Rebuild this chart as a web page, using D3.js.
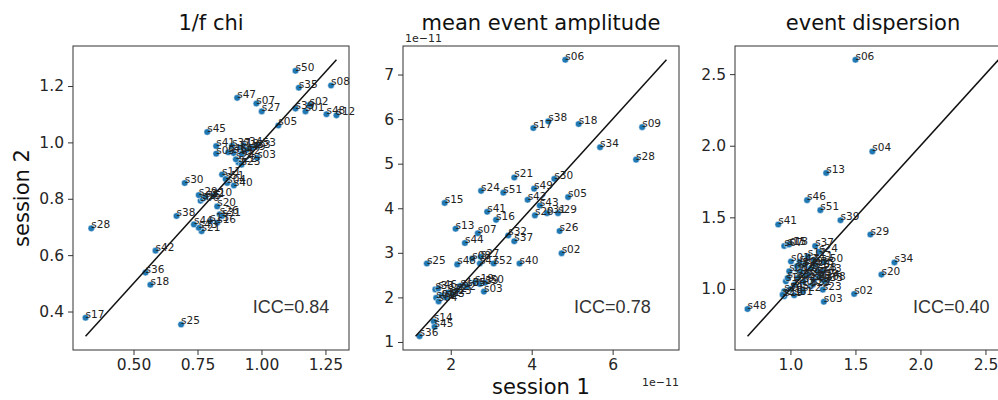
<!DOCTYPE html>
<html>
<head>
<meta charset="utf-8">
<script src="https://cdn.jsdelivr.net/npm/d3@7"></script>
<style>
  body { margin: 0; background: #fff; }
  text { font-family: "DejaVu Sans", sans-serif; }
</style>
</head>
<body>
<div id="chart"></div>
<script>
// subject ids, same order in every array below
const subjects = ["s01","s02","s03","s04","s05","s06","s07","s08","s09","s10",
  "s11","s12","s13","s14","s15","s16","s17","s18","s19","s20",
  "s21","s22","s23","s24","s25","s26","s27","s28","s29","s30",
  "s31","s32","s33","s34","s35","s36","s37","s38","s39","s40",
  "s41","s42","s43","s44","s45","s46","s47","s48","s49","s50",
  "s51","s52","s53"];

// 1/f chi
const chiS1 = [1.172,1.188,0.983,0.866,1.066,0.762,0.980,1.272,0.823,0.812,
  0.846,1.293,0.800,0.891,0.770,0.827,0.3125,0.566,0.917,0.827,
  0.766,0.910,0.922,0.900,0.686,0.837,1.001,0.335,0.755,0.700,
  0.846,0.781,0.962,0.930,1.146,0.547,0.885,0.668,1.133,0.892,
  0.823,0.586,0.755,0.736,0.788,0.870,0.905,1.254,0.943,1.133,
  0.860,0.923,0.983];
const chiS2 = [1.110,1.133,0.945,0.856,1.060,0.793,1.138,1.202,0.960,0.811,
  0.886,1.096,0.720,0.962,0.800,0.715,0.378,0.495,0.982,0.773,
  0.685,0.929,0.921,0.940,0.354,0.745,1.110,0.695,0.813,0.856,
  0.739,0.806,0.980,0.990,1.194,0.538,0.988,0.739,1.120,0.847,
  0.987,0.616,0.697,0.709,1.037,0.965,1.158,1.100,0.974,1.254,
  0.870,0.960,0.988];

// mean event amplitude (x 1e-11)
const ampS1 = [1.64,4.74,2.82,1.70,4.90,4.83,2.67,2.53,6.73,2.24,
  1.78,1.94,2.12,1.58,1.85,3.12,4.04,5.16,2.60,4.08,
  3.57,2.16,2.05,2.75,1.41,4.69,2.74,6.58,4.65,4.56,
  4.38,3.42,1.62,5.69,2.40,1.23,3.57,4.41,2.72,3.70,
  2.90,3.90,4.20,2.35,1.60,1.69,2.72,2.16,4.06,2.85,
  3.30,3.06,1.88];
const ampS2 = [1.99,2.99,2.13,1.91,4.25,7.33,3.44,2.87,5.82,2.26,
  2.04,2.11,3.54,1.46,4.12,3.74,5.80,5.89,2.34,3.84,
  4.69,2.16,2.08,4.39,2.76,3.49,2.91,5.09,3.89,4.66,
  3.89,3.39,2.18,5.37,2.25,1.13,3.26,5.95,2.30,2.76,
  3.92,4.19,4.06,3.22,1.34,2.20,2.76,2.74,4.44,2.33,
  4.35,2.76,2.00];

// event dispersion
const dispS1 = [1.004,1.49,1.257,1.63,0.991,1.50,0.952,1.28,1.107,0.952,
  1.184,1.133,1.275,1.236,0.978,0.965,1.056,0.99,0.952,1.70,
  0.94,1.094,1.249,1.22,1.158,1.158,1.081,1.21,1.615,0.978,
  1.029,1.172,1.261,1.80,1.056,1.12,1.19,1.19,1.385,1.03,
  0.906,1.07,1.25,1.10,1.00,1.128,1.14,0.67,1.22,1.26,
  1.23,1.05,1.18];
const dispS2 = [1.192,0.965,0.91,1.96,1.123,2.60,1.30,1.06,1.169,0.984,
  1.203,1.227,1.81,1.076,1.31,1.053,1.134,1.31,0.949,1.10,
  0.96,0.984,0.995,1.26,1.019,1.146,1.123,1.123,1.38,1.076,
  0.956,1.030,1.053,1.185,1.076,1.09,1.30,1.17,1.48,1.03,
  1.45,1.19,1.12,1.05,1.00,1.62,1.10,0.86,1.08,1.19,
  1.55,1.16,1.06];

const titles = ["1/f chi", "mean event amplitude", "event dispersion"];
const iccValues = [0.84, 0.78, 0.40];
const xTickValues = [[0.5, 0.75, 1.0, 1.25], [2, 4, 6], [1.0, 1.5, 2.0, 2.5]];
const yTickValues = [[0.4, 0.6, 0.8, 1.0, 1.2], [1, 2, 3, 4, 5, 6, 7], [1.0, 1.5, 2.0, 2.5]];

const panels = [
  { s1: chiS1,  s2: chiS2,  xFmt: d3.format(".2f"), yFmt: d3.format(".1f"), left: 73,  iccX: 0.651, sci: false },
  { s1: ampS1,  s2: ampS2,  xFmt: d3.format("d"),   yFmt: d3.format("d"),   left: 403, iccX: 0.62,  sci: true },
  { s1: dispS1, s2: dispS2, xFmt: d3.format(".1f"), yFmt: d3.format(".1f"), left: 735, iccX: 0.645, sci: false }
];

const W = 998, H = 400;
const plotTop = 46, pw = 276, ph = 304;

const svg = d3.select("#chart").append("svg")
  .attr("width", W).attr("height", H)
  .style("background", "#fff");

panels.forEach((p, i) => {
  const g = svg.append("g").attr("transform", `translate(${p.left},${plotTop})`);

  // shared limits, 5% margin around min/max of both sessions
  const all = p.s1.concat(p.s2);
  const lo = d3.min(all), hi = d3.max(all);
  const pad = (hi - lo) * 0.05;

  const x = d3.scaleLinear().domain([lo - pad, hi + pad]).range([0, pw]);
  const y = d3.scaleLinear().domain([lo - pad, hi + pad]).range([ph, 0]);

  const xAxis = g.append("g")
    .attr("transform", `translate(0,${ph})`)
    .call(d3.axisBottom(x).tickValues(xTickValues[i]).tickFormat(p.xFmt).tickSize(5).tickPadding(4));
  const yAxis = g.append("g")
    .call(d3.axisLeft(y).tickValues(yTickValues[i]).tickFormat(p.yFmt).tickSize(5).tickPadding(4));

  [xAxis, yAxis].forEach(a => {
    a.select(".domain").remove();
    a.selectAll(".tick line").attr("stroke", "#333");
    a.selectAll(".tick text")
      .attr("fill", "#262626")
      .style("font-size", "15.5px")
      .style("font-family", "DejaVu Sans");
  });

  // points
  g.selectAll("circle")
    .data(subjects)
    .join("circle")
      .attr("cx", (d, j) => x(p.s1[j]))
      .attr("cy", (d, j) => y(p.s2[j]))
      .attr("r", 3.3)
      .attr("fill", "#1f77b4")
      .attr("stroke", "#fff")
      .attr("stroke-width", 0.5);

  // identity line
  g.append("path")
    .datum([lo, hi])
    .attr("fill", "none")
    .attr("stroke", "#111")
    .attr("stroke-width", 1.5)
    .attr("d", d3.line().x(d => x(d)).y(d => y(d)));

  // subject labels
  g.selectAll("text.lab")
    .data(subjects)
    .join("text")
      .attr("class", "lab")
      .attr("x", (d, j) => x(p.s1[j]))
      .attr("y", (d, j) => y(p.s2[j]))
      .attr("fill", "#222")
      .style("font-size", "10.5px")
      .text(d => d);

  // frame
  g.append("rect")
    .attr("width", pw).attr("height", ph)
    .attr("fill", "none")
    .attr("stroke", "#333")
    .attr("stroke-width", 1);

  // ICC
  g.append("text")
    .attr("x", pw * p.iccX)
    .attr("y", ph * 0.878)
    .attr("fill", "#333")
    .style("font-family", "Liberation Sans, Arial, sans-serif")
    .style("font-size", "18px")
    .text("ICC=" + iccValues[i].toFixed(2));

  // title
  svg.append("text")
    .attr("x", p.left + pw / 2)
    .attr("y", 30)
    .attr("text-anchor", "middle")
    .attr("fill", "#111")
    .style("font-size", "21px")
    .text(titles[i]);

  if (p.sci) {
    svg.append("text")
      .attr("x", p.left + 2).attr("y", 42)
      .attr("fill", "#262626")
      .style("font-size", "11px")
      .text("1e\u221211");
    svg.append("text")
      .attr("x", p.left + pw).attr("y", 386)
      .attr("text-anchor", "end")
      .attr("fill", "#262626")
      .style("font-size", "11px")
      .text("1e\u221211");
    svg.append("text")
      .attr("x", p.left + pw / 2).attr("y", 394)
      .attr("text-anchor", "middle")
      .attr("fill", "#111")
      .style("font-size", "21px")
      .text("session 1");
  }
});

// y label
svg.append("text")
  .attr("transform", `translate(29,${plotTop + ph / 2}) rotate(-90)`)
  .attr("text-anchor", "middle")
  .attr("fill", "#111")
  .style("font-size", "21px")
  .text("session 2");
</script>
</body>
</html>
